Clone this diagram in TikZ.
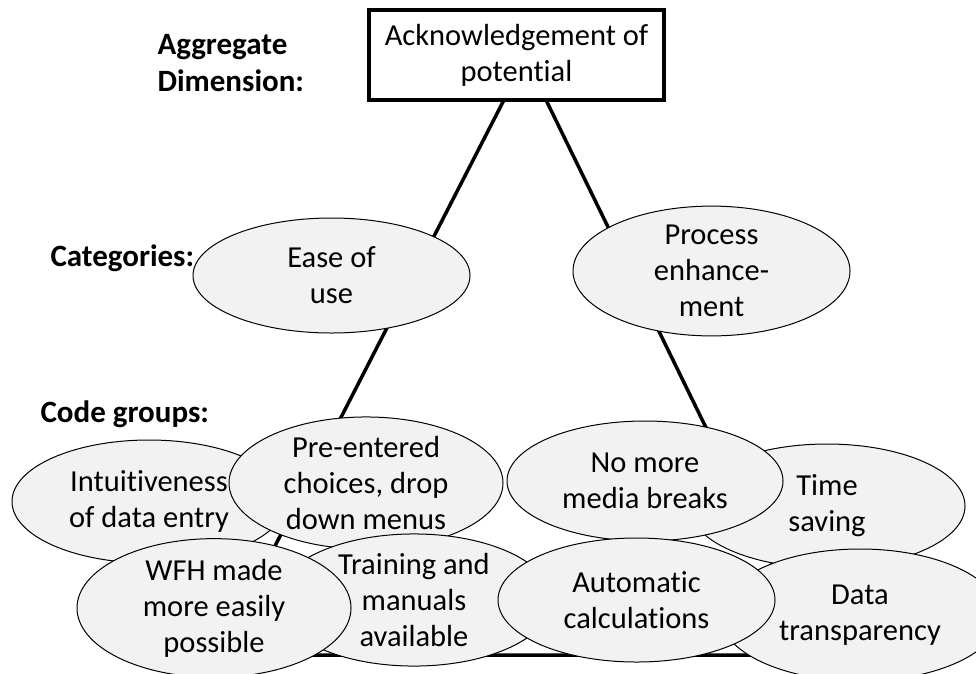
\documentclass[tikz,border=0pt]{standalone}
\usepackage{fontspec}
\setmainfont{Carlito}[Ligatures=NoCommon]
\usetikzlibrary{shapes.geometric}
\definecolor{bubble}{HTML}{F2F2F2}
\tikzset{
  code/.style={ellipse, draw=black, line width=1pt, fill=bubble, inner sep=0pt,
    align=center, font=\fontsize{30.5}{36}\selectfont},
  levelname/.style={anchor=west, align=left, font=\fontsize{31}{37}\selectfont\bfseries},
  frame/.style={draw=black, line width=4pt, fill=white, minimum width=295pt,
    minimum height=90pt, align=center, font=\fontsize{30.5}{36}\selectfont},
  spine/.style={line width=3.5pt, line join=miter}
}
\begin{document}
\begin{tikzpicture}[x=1pt,y=-1pt]
\useasboundingbox (0,0) rectangle (976,673);

% triangle behind everything
\coordinate (apex) at (525.5,58);
\coordinate (bl) at (219,655);
\coordinate (br) at (817,655);
\draw[spine] (apex) -- (bl) -- (br) -- cycle;

% aggregate dimension
\node[frame] (top) at (516.5,55) {Acknowledgement of\\potential};

% level names
\node[levelname] (lagg) at (154,63) {Aggregate\\Dimension:};
\node[levelname] (lcat) at (47,258) {Categories:};
\node[levelname] (lcode) at (37,414) {Code groups:};

% categories
\node[code, minimum width=277pt, minimum height=115pt] (ease) at (331.5,275.5) {Ease of\\use};
\node[code, minimum width=277pt, minimum height=125pt] (proc) at (711.5,271) {Process\\enhance-\\ment};

% code groups, left
\node[code, minimum width=274pt, minimum height=123pt] (intu) at (149,501.5) {Intuitiveness\\of data entry};
\node[code, minimum width=274pt, minimum height=126pt] (pre) at (366,483) {Pre-entered\\choices, drop\\down menus};
\node[code, minimum width=276pt, minimum height=124pt] (train) at (414,600) {Training and\\manuals\\available};
\node[code, minimum width=274pt, minimum height=122pt] (wfh) at (214,608) {WFH made\\more easily\\possible};

% code groups, right
\node[code, minimum width=276pt, minimum height=124pt] (time) at (827,506) {Time\\saving};
\node[code, minimum width=276pt, minimum height=120pt] (media) at (645,481) {No more\\media breaks};
\node[code, minimum width=280pt, minimum height=132pt] (transp) at (860,615) {Data\\transparency};
\node[code, minimum width=277pt, minimum height=124pt] (calc) at (636.5,600) {Automatic\\calculations};
\end{tikzpicture}
\end{document}
